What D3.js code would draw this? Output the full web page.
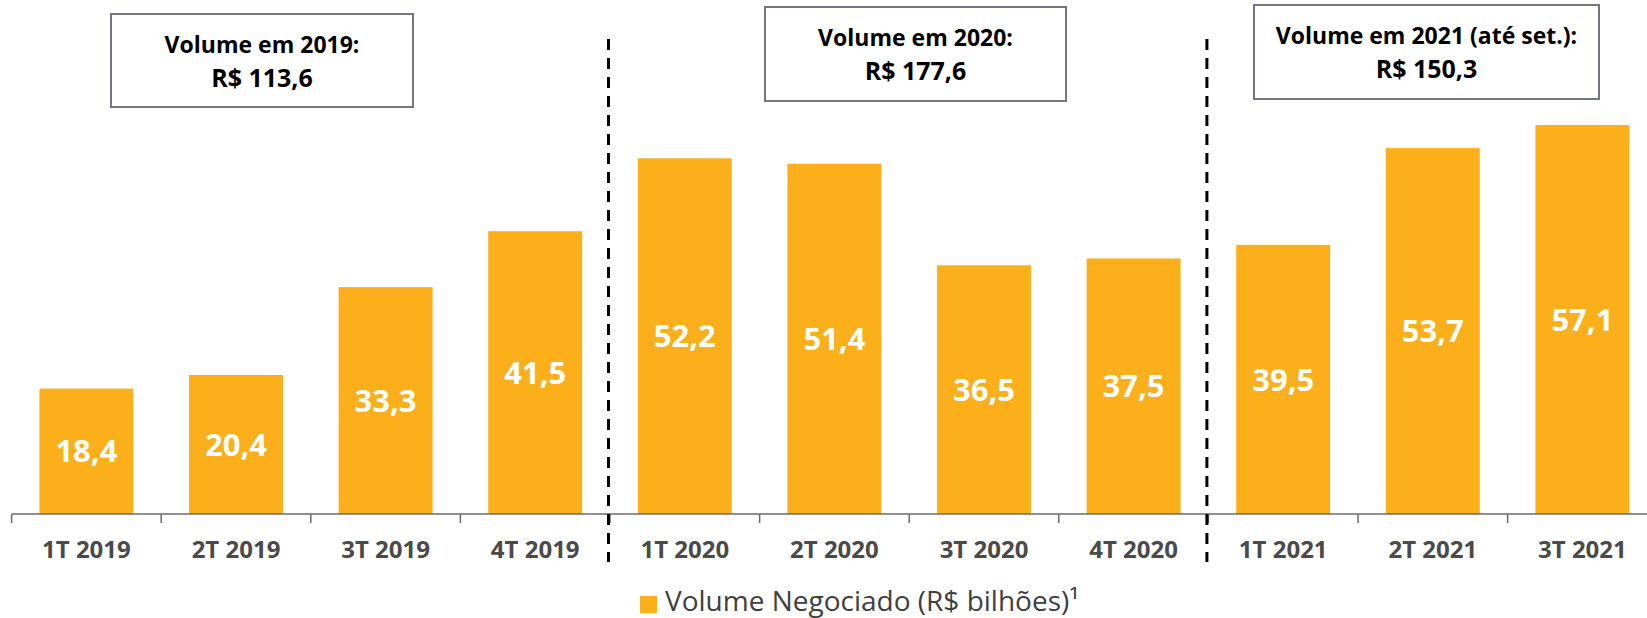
<!DOCTYPE html>
<html>
<head>
<meta charset="utf-8">
<script src="https://cdn.jsdelivr.net/npm/d3@7"></script>
<style>
  body { margin: 0; background: #fff; }
  svg { display: block; font-family: "Open Sans", "Noto Sans", sans-serif; }
</style>
</head>
<body>
<svg id="chart" width="1647" height="618"></svg>
<script>
const quarters = ["1T 2019", "2T 2019", "3T 2019", "4T 2019", "1T 2020", "2T 2020", "3T 2020", "4T 2020", "1T 2021", "2T 2021", "3T 2021"]
const volumes = [18.4, 20.4, 33.3, 41.5, 52.2, 51.4, 36.5, 37.5, 39.5, 53.7, 57.1]
const boxTitles = ["Volume em 2019:", "Volume em 2020:", "Volume em 2021 (até set.):"]
const boxTotals = ["R$ 113,6", "R$ 177,6", "R$ 150,3"]
const dividersBefore = ["1T 2020", "1T 2021"]
const legendLabel = "Volume Negociado (R$ bilhões)¹"

// annotation boxes: x0, y0, x1, y1
const boxLayout = [
  [111, 14, 413, 107],
  [765, 7, 1066, 101],
  [1254, 5, 1599, 99],
]

const barColor = "#fbaf1b"
const width = 1647
const baseY = 514

const svg = d3.select("#chart")

const x = d3.scaleBand()
  .domain(quarters)
  .range([11.6, 1657.2])
  .paddingInner(0.372)
  .paddingOuter(0.186)

const y = d3.scaleLinear()
  .domain([0, 60])
  .range([baseY, baseY - 60 * 6.814])

const gap = (x.step() - x.bandwidth()) / 2
const bandStart = (q) => x(q) - gap

// bars
svg.append("g")
  .selectAll("rect")
  .data(quarters)
  .enter()
  .append("rect")
  .attr("x", (d) => x(d))
  .attr("y", (d, i) => y(volumes[i]))
  .attr("width", x.bandwidth())
  .attr("height", (d, i) => y(0) - y(volumes[i]))
  .attr("fill", barColor)

// value labels
svg.append("g")
  .selectAll("text")
  .data(quarters)
  .enter()
  .append("text")
  .attr("x", (d) => x(d) + x.bandwidth() / 2)
  .attr("y", (d, i) => (y(volumes[i]) + y(0)) / 2)
  .attr("dy", "0.36em")
  .attr("text-anchor", "middle")
  .attr("fill", "#fff")
  .style("font-size", "31px")
  .style("font-weight", 700)
  .text((d, i) => volumes[i].toFixed(1).replace(".", ","))

// x axis
const axis = svg.append("g")
  .attr("transform", `translate(0,${baseY})`)
  .call(d3.axisBottom(x).tickSize(0).tickPadding(27).tickSizeOuter(0))

axis.select(".domain")
  .attr("d", `M${bandStart(quarters[0])},0H${width}`)
  .attr("stroke", "#6b6b6b")
  .attr("stroke-width", 1.5)

axis.selectAll(".tick text")
  .attr("fill", "#4a4a4a")
  .style("font-size", "24px")
  .style("font-weight", 700)
  .style("font-family", "'Open Sans', sans-serif")

axis.append("g")
  .selectAll("line")
  .data(quarters)
  .enter()
  .append("line")
  .attr("x1", (d) => bandStart(d))
  .attr("x2", (d) => bandStart(d))
  .attr("y1", 0)
  .attr("y2", 9)
  .attr("stroke", "#6b6b6b")
  .attr("stroke-width", 1.5)

// dashed dividers between years
svg.append("g")
  .selectAll("line")
  .data(dividersBefore)
  .enter()
  .append("line")
  .attr("x1", (d) => bandStart(d) - 1.5)
  .attr("x2", (d) => bandStart(d) - 1.5)
  .attr("y1", 39)
  .attr("y2", 562)
  .attr("stroke", "#000")
  .attr("stroke-width", 3)
  .attr("stroke-dasharray", "11,8")

// year total boxes
const box = svg.append("g")
  .selectAll("g")
  .data(boxLayout)
  .enter()
  .append("g")

box.append("rect")
  .attr("x", (d) => d[0])
  .attr("y", (d) => d[1])
  .attr("width", (d) => d[2] - d[0])
  .attr("height", (d) => d[3] - d[1])
  .attr("fill", "#fff")
  .attr("stroke", "#737785")
  .attr("stroke-width", 2)

box.append("text")
  .attr("x", (d) => (d[0] + d[2]) / 2)
  .attr("y", (d) => (d[1] + d[3]) / 2 - 8)
  .attr("text-anchor", "middle")
  .attr("fill", "#000")
  .style("font-size", "23px")
  .style("font-weight", 700)
  .text((d, i) => boxTitles[i])

box.append("text")
  .attr("x", (d) => (d[0] + d[2]) / 2)
  .attr("y", (d) => (d[1] + d[3]) / 2 + 26)
  .attr("text-anchor", "middle")
  .attr("fill", "#000")
  .style("font-size", "25px")
  .style("font-weight", 700)
  .text((d, i) => boxTotals[i])

// legend
const legend = svg.append("g").attr("transform", "translate(640,596)")
legend.append("rect")
  .attr("width", 17)
  .attr("height", 17)
  .attr("fill", barColor)
legend.append("text")
  .attr("x", 25)
  .attr("y", 15)
  .attr("fill", "#404040")
  .style("font-size", "28px")
  .text(legendLabel)
</script>
</body>
</html>
